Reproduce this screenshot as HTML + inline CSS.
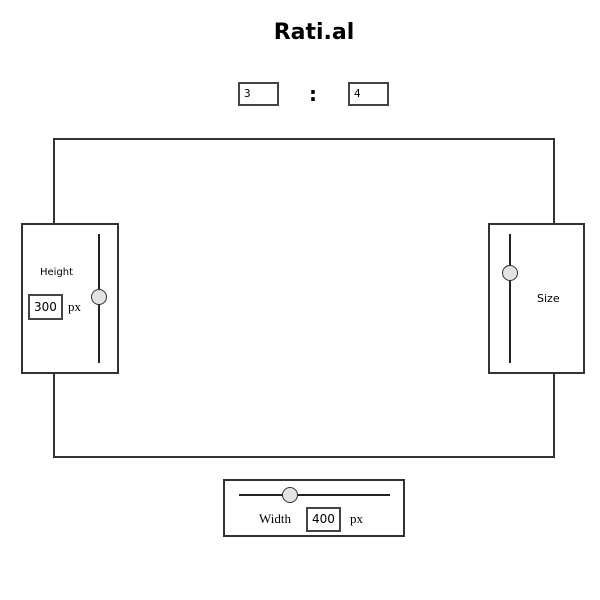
<!DOCTYPE html>
<html><head><meta charset="utf-8"><style>
body{margin:0;width:600px;height:600px;background:#fff;position:relative;overflow:hidden;font-family:"DejaVu Sans","Liberation Sans",sans-serif;}
.abs{position:absolute;box-sizing:border-box;}
.box{border:2px solid #333;background:#fff;}
.inp{border:2px solid #444;background:#fff;font-size:12px;padding-left:4px;line-height:18px;}
.mono{font-family:"DejaVu Sans Mono","Liberation Mono",monospace;font-size:11px;}
.knob{width:16px;height:16px;border-radius:50%;background:#e3e3e3;border:1.5px solid #333;}
.serif{font-family:"Liberation Serif",serif;font-size:13px;}
</style></head><body>
<div class="abs" style="left:0;width:628px;top:20px;text-align:center;font-weight:bold;font-size:22px;">Rati.al</div>
<div class="abs inp mono" style="left:238px;top:82px;width:41px;height:24px;line-height:20px;">3</div>
<div class="abs" style="left:309px;top:82px;font-weight:bold;font-size:20px;">:</div>
<div class="abs inp mono" style="left:348px;top:82px;width:41px;height:24px;line-height:20px;">4</div>
<div class="abs box" style="left:53px;top:138px;width:502px;height:320px;"></div>

<div class="abs box" style="left:21px;top:223px;width:98px;height:151px;">
 <div class="abs" style="left:17px;top:42px;font-size:10px;">Height</div>
 <div class="abs inp" style="left:5px;top:69px;width:35px;height:26px;line-height:22px;font-size:12px;">300</div>
 <div class="abs serif" style="left:45px;top:74px;">px</div>
 <div class="abs" style="left:75px;top:9px;width:2px;height:129px;background:#222;"></div>
 <div class="abs knob" style="left:68px;top:64px;"></div>
</div>

<div class="abs box" style="left:488px;top:223px;width:97px;height:151px;">
 <div class="abs" style="left:19px;top:9px;width:2px;height:129px;background:#222;"></div>
 <div class="abs knob" style="left:12px;top:40px;"></div>
 <div class="abs" style="left:47px;top:67px;font-size:11px;">Size</div>
</div>

<div class="abs box" style="left:223px;top:479px;width:182px;height:58px;">
 <div class="abs" style="left:14px;top:13px;width:151px;height:2px;background:#222;"></div>
 <div class="abs knob" style="left:57px;top:6px;"></div>
 <div class="abs serif" style="left:34px;top:30px;font-size:13px;">Width</div>
 <div class="abs inp" style="left:81px;top:26px;width:35px;height:25px;line-height:21px;">400</div>
 <div class="abs serif" style="left:125px;top:30px;">px</div>
</div>
</body></html>
